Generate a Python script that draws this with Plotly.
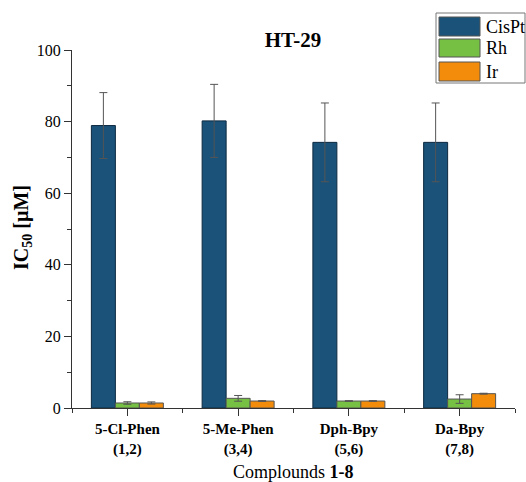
import plotly.graph_objects as go

# ---- data ----
categories = ["<b>5-Cl-Phen</b><br><b>(1,2)</b>", "<b>5-Me-Phen</b><br><b>(3,4)</b>",
              "<b>Dph-Bpy</b><br><b>(5,6)</b>", "<b>Da-Bpy</b><br><b>(7,8)</b>"]
x_pos = [0, 1, 2, 3]
cispt = [78.9, 80.2, 74.2, 74.2]
cispt_err = [9.2, 10.2, 11.0, 11.0]
rh = [1.4, 2.7, 1.95, 2.5]
rh_err = [0.35, 0.8, 0.1, 1.2]
ir = [1.4, 1.95, 1.95, 4.0]
ir_err = [0.3, 0.1, 0.1, 0.12]
series_names = ["CisPt", "Rh", "Ir"]
colors = ["#1a5279", "#76c043", "#f28c0a"]
outlines = ["#0d2a40", "#555555", "#555555"]

FONT = "Liberation Serif"

fig = go.Figure()
for name, vals, errs, col, oc in zip(series_names, [cispt, rh, ir],
                                     [cispt_err, rh_err, ir_err], colors, outlines):
    fig.add_trace(go.Bar(
        name=name, x=x_pos, y=vals,
        marker=dict(color=col, line=dict(color=oc, width=1)),
        error_y=dict(type="data", array=errs, visible=True,
                     color="#555555", thickness=1, width=4),
        showlegend=False,
    ))

# plot area in pixels: x 72..515, y 50..408
L, R, T, B = 72, 11, 50, 74
W, H = 526, 482
pw = W - L - R
ph = H - T - B

def px(xp):
    return (xp - L) / pw

def py(yp):
    return (H - B - yp) / ph

shapes = []
annotations = []
# legend box
shapes.append(dict(type="rect", xref="paper", yref="paper",
                   x0=px(436), x1=px(525), y0=py(83), y1=py(13),
                   line=dict(color="#777777", width=1), fillcolor="white"))
sw_rows = [(17, 36), (39, 57), (62, 81)]
for (ytop, ybot), name, col in zip(sw_rows, series_names, colors):
    shapes.append(dict(type="rect", xref="paper", yref="paper",
                       x0=px(439), x1=px(480), y0=py(ybot), y1=py(ytop),
                       line=dict(color="#555555", width=1), fillcolor=col))
    annotations.append(dict(xref="paper", yref="paper", x=px(484), y=py((ytop + ybot) / 2),
                            text=name, showarrow=False, xanchor="left", yanchor="middle",
                            font=dict(family=FONT, size=18, color="black")))

# y-axis title
annotations.append(dict(xref="paper", yref="paper", x=px(22), y=py(228),
                        text="<b>IC<sub>50</sub> [µM]</b>", textangle=-90, showarrow=False,
                        xanchor="center", yanchor="middle",
                        font=dict(family=FONT, size=20, color="black")))
# x-axis title
annotations.append(dict(xref="paper", yref="paper", x=px(293), y=py(472),
                        text="Complounds <b>1-8</b>", showarrow=False,
                        xanchor="center", yanchor="middle",
                        font=dict(family=FONT, size=18, color="black")))

fig.update_layout(
    width=W, height=H,
    margin=dict(l=L, r=R, t=T, b=B),
    barmode="group", bargap=0.35, bargroupgap=0,
    plot_bgcolor="white", paper_bgcolor="white",
    font=dict(family=FONT, color="black"),
    title=dict(text="<b>HT-29</b>", x=px(293), xref="paper", xanchor="center",
               y=1 - 40 / H, yanchor="middle", font=dict(family=FONT, size=21, color="black")),
    xaxis=dict(range=[-0.5, 3.5], tickmode="array", tickvals=x_pos, ticktext=categories,
               ticks="outside", ticklen=7, tickcolor="#333333", tickwidth=1,
               showline=True, linecolor="#333333", linewidth=1,
               showgrid=False, zeroline=False,
               tickfont=dict(family=FONT, size=15, color="black"),
               minor=dict(tickvals=[-0.5, 0.5, 1.5, 2.5, 3.5], ticks="outside", ticklen=4,
                          tickcolor="#333333", showgrid=False)),
    yaxis=dict(range=[0, 100], tickmode="linear", tick0=0, dtick=20,
               ticks="outside", ticklen=7, tickcolor="#333333", tickwidth=1,
               showline=True, linecolor="#333333", linewidth=1,
               showgrid=False, zeroline=False,
               tickfont=dict(family=FONT, size=16, color="black"),
               minor=dict(dtick=10, ticks="outside", ticklen=4, tickcolor="#333333",
                          showgrid=False)),
    shapes=shapes,
    annotations=annotations,
)

fig.write_html("out.html", config={"displayModeBar": False},
               post_script="document.body.style.margin='0';document.body.style.overflow='hidden';")
